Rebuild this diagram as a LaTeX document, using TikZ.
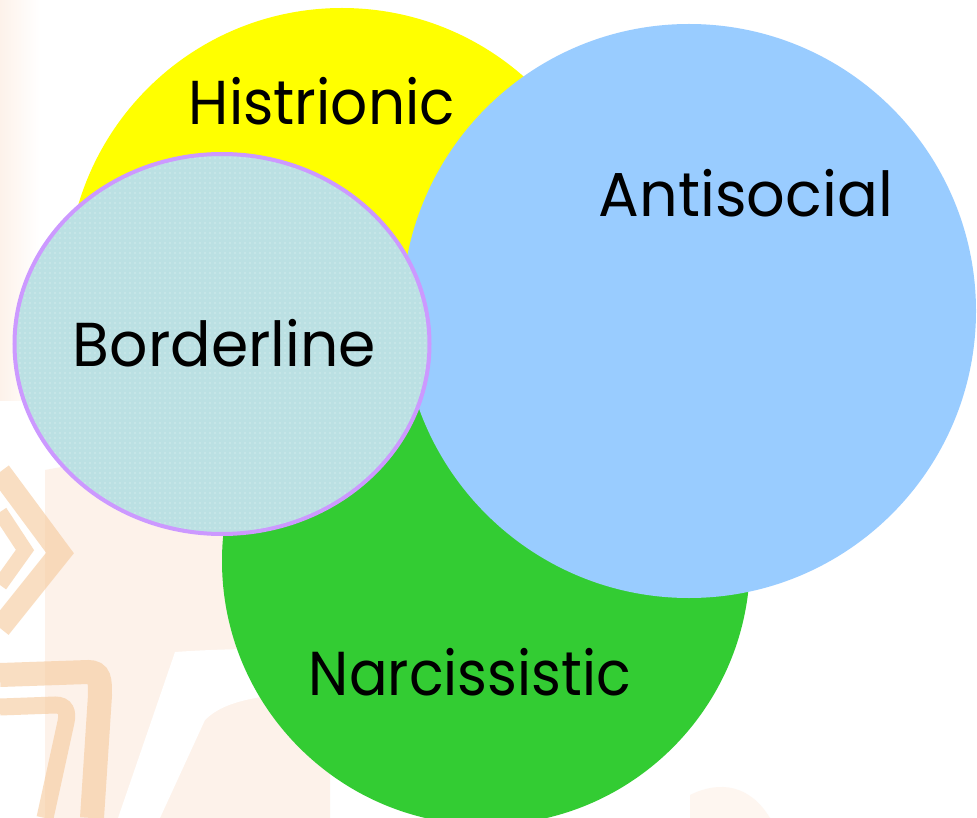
\documentclass[tikz,border=0pt]{standalone}
\usepackage{fontspec}
\setmainfont{Poppins}
\usetikzlibrary{patterns.meta,shapes.geometric}
\definecolor{histY}{HTML}{FFFF00}
\definecolor{antiB}{HTML}{99CCFF}
\definecolor{narcG}{HTML}{33CC33}
\definecolor{bordF}{HTML}{BBE0E3}
\definecolor{bordL}{HTML}{CC99FF}
\definecolor{peach}{HTML}{FDF2EA}
\definecolor{orng}{HTML}{F6C99A}
\newcommand{\lblfont}{\fontsize{62}{62}\selectfont}
\begin{document}
\begin{tikzpicture}[x=1pt,y=-1pt,
  lbl/.style={inner sep=0pt, anchor=base west, text=black},
  disc/.style={circle, inner sep=0pt, draw=none},
  band/.style={draw=orng, line width=#1, opacity=0.6, line join=miter}]
\useasboundingbox (0,0) rectangle (977,818);
\begin{scope}
\clip (0,0) rectangle (977,818);
% background watermark
\fill[white] (0,0) rectangle (977,818);
\fill[left color=peach, right color=white] (0,0) rectangle (40,400);
\fill[peach] (45,470) .. controls (150,450) and (250,455) .. (330,460) -- (330,818) -- (45,818) -- cycle;
\fill[white] (175,652) .. controls (230,648) and (300,648) .. (330,650) -- (330,690) .. controls (260,695) and (225,700) .. (205,720) -- (160,818) -- (118,818) -- cycle;
\fill[peach!70] (690,795) .. controls (720,780) and (750,785) .. (770,818) -- (690,818) -- cycle;
\draw[band=22] (0,472) -- (60,553) -- (0,628);
\draw[band=15] (0,512) -- (25,550) -- (0,585);
\draw[band=24] (0,675) -- (88,672) .. controls (100,672) and (100,680) .. (100,695) -- (92,818);
\draw[band=17] (0,707) -- (55,705) .. controls (66,705) and (68,712) .. (66,722) -- (45,818);
% circles
\node[disc, fill=histY, minimum size=550pt] (hist) at (342,283) {};
\node[disc, fill=narcG, minimum size=528pt] (narc) at (486,561) {};
\node[disc, fill=antiB, minimum size=574pt] (anti) at (689,311) {};
\node[ellipse, inner sep=0pt, fill=bordF, minimum width=415pt, minimum height=380pt] (bord) at (222,344) {};
\path[pattern={Dots[radius=0.6pt, distance=5pt]}, pattern color=white, opacity=0.75]
  (bord.center) ellipse [x radius=207.5, y radius=190];
\draw[bordL, line width=4pt] (bord.center) ellipse [x radius=207.5, y radius=190];
\end{scope}
% labels
\node[lbl] (tHist) at (188.7,125) {\resizebox{266pt}{\height}{\lblfont Histrionic}};
\node[lbl] (tAnti) at (598.7,216.7) {\resizebox{294pt}{\height}{\lblfont Antisocial}};
\node[lbl] (tBord) at (72.7,366.7) {\resizebox{303pt}{\height}{\lblfont Borderline}};
\node[lbl] (tNarc) at (308.7,695) {\resizebox{322pt}{\height}{\lblfont Narcissistic}};
\end{tikzpicture}
\end{document}
